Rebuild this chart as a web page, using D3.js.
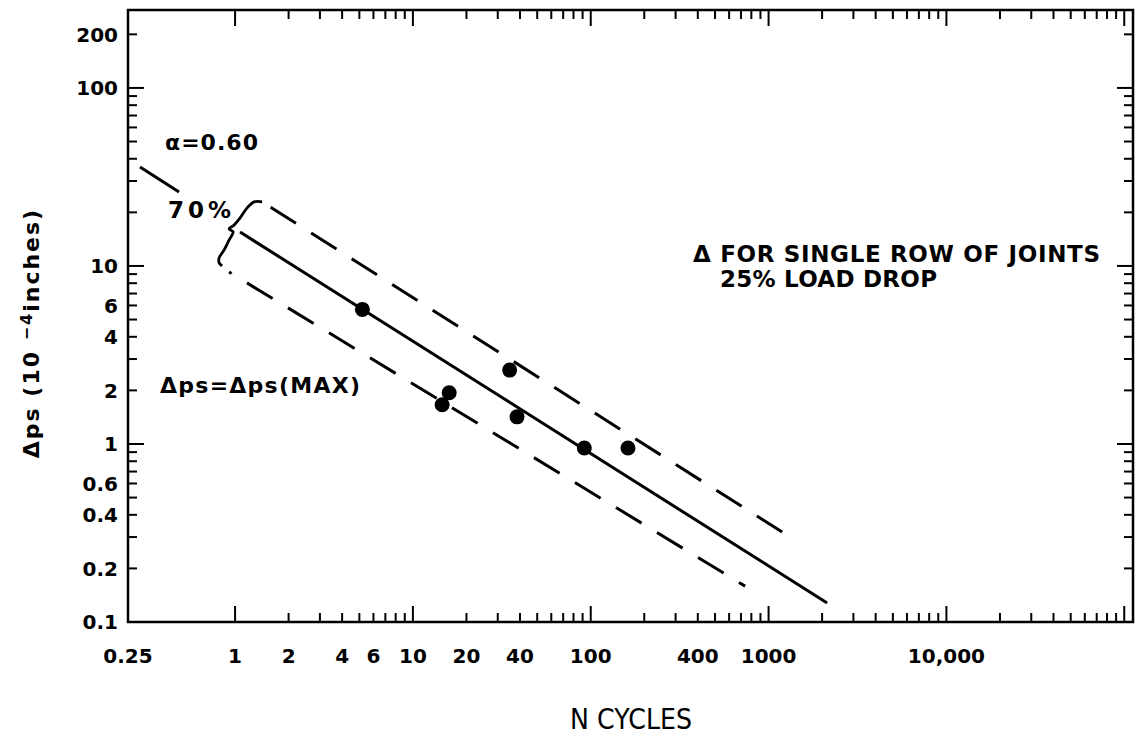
<!DOCTYPE html>
<html>
<head>
<meta charset="utf-8">
<script src="https://cdn.jsdelivr.net/npm/d3@7"></script>
<style>
  body { margin: 0; background: #fff; }
  svg { display: block; }
  text { font-family: "DejaVu Sans", "Liberation Sans", Arial, sans-serif; fill: #000; }
</style>
</head>
<body>
<svg id="chart" width="1141" height="740"></svg>
<script>
// Test results: permanent-set increment against number of cycles
const testCycles = [5.2, 14.6, 16, 35, 38.5, 92, 162];
const testDps    = [5.7, 1.66, 1.94, 2.6, 1.42, 0.95, 0.95];

// Fitted trend (alpha = 0.60) and the 70% band around it
const meanLineN    = [1.067, 2135];
const meanLineDps  = [15.5, 0.128];
const meanLeadN    = [0.292, 0.484];
const meanLeadDps  = [36, 26];
const upperBandN   = [1.42, 1193];
const upperBandDps = [22.9, 0.32];
const lowerBandN   = [0.925, 738];
const lowerBandDps = [9.25, 0.159];

// Labelled ticks
const xTickLabels = [0.25, 1, 2, 4, 6, 10, 20, 40, 100, 400, 1000, 10000];
const yTickLabels = [0.1, 0.2, 0.4, 0.6, 1, 2, 4, 6, 10, 100, 200];

const svg = d3.select("#chart");
const plot = { left: 128, right: 1133, top: 10, bottom: 622 };

const x = d3.scaleLog().domain([0.25, 112000]).range([plot.left, plot.right]);
const y = d3.scaleLog().domain([0.1, 274]).range([plot.bottom, plot.top]);

const isDecade = v => Math.abs(Math.log10(v) - Math.round(Math.log10(v))) < 1e-9;
const fmt = v => v >= 10000 ? d3.format(",")(v) : String(v);

// ---- frame ----
svg.append("rect")
  .attr("x", plot.left).attr("y", plot.top)
  .attr("width", plot.right - plot.left).attr("height", plot.bottom - plot.top)
  .attr("fill", "none").attr("stroke", "#000").attr("stroke-width", 2.5);

// ---- tick marks on all four sides, pointing inward ----
const xTicks = x.ticks().filter(v => v >= 1 && v <= 100000);
const yTicks = y.ticks();
const tickLen = v => isDecade(v) ? 16 : 9;

const tickG = svg.append("g").attr("stroke", "#000").attr("stroke-width", 2);
tickG.selectAll(".xb").data(xTicks).join("line")
  .attr("x1", d => x(d)).attr("x2", d => x(d))
  .attr("y1", plot.bottom).attr("y2", d => plot.bottom - tickLen(d));
tickG.selectAll(".xt").data(xTicks).join("line")
  .attr("x1", d => x(d)).attr("x2", d => x(d))
  .attr("y1", plot.top).attr("y2", d => plot.top + tickLen(d));
tickG.selectAll(".yl").data(yTicks).join("line")
  .attr("y1", d => y(d)).attr("y2", d => y(d))
  .attr("x1", plot.left).attr("x2", d => plot.left + tickLen(d));
tickG.selectAll(".yr").data(yTicks).join("line")
  .attr("y1", d => y(d)).attr("y2", d => y(d))
  .attr("x1", plot.right).attr("x2", d => plot.right - tickLen(d));

// ---- tick labels ----
svg.append("g").selectAll("text").data(xTickLabels).join("text")
  .attr("x", d => x(d)).attr("y", 663)
  .attr("text-anchor", "middle")
  .attr("font-size", 20).attr("font-weight", "bold")
  .text(fmt);

svg.append("g").selectAll("text").data(yTickLabels).join("text")
  .attr("x", 118).attr("y", d => y(d))
  .attr("dy", "0.36em")
  .attr("text-anchor", "end")
  .attr("font-size", 20).attr("font-weight", "bold")
  .text(fmt);

// ---- axis titles ----
svg.append("text")
  .attr("x", 570).attr("y", 729)
  .attr("font-size", 28)
  .attr("textLength", 122).attr("lengthAdjust", "spacingAndGlyphs")
  .text("N  CYCLES");

const yTitle = svg.append("text")
  .attr("transform", "translate(39,333) rotate(-90)")
  .attr("text-anchor", "middle")
  .attr("font-size", 22).attr("font-weight", "bold")
  .attr("letter-spacing", 2);
yTitle.append("tspan").text("\u0394ps  (10 ");
yTitle.append("tspan").attr("font-size", 16).attr("baseline-shift", "45%").text("\u22124");
yTitle.append("tspan").text("inches)");

// ---- trend and band lines ----
const line = d3.line().x(d => x(d[0])).y(d => y(d[1]));
const pairs = (ns, ps) => ns.map((n, i) => [n, ps[i]]);
const dash = 30, gap = 18;

const lines = svg.append("g").attr("fill", "none").attr("stroke", "#000").attr("stroke-width", 3);
lines.append("path").attr("d", line(pairs(meanLineN, meanLineDps)));
lines.append("path").attr("d", line(pairs(meanLeadN, meanLeadDps)));

// upper band: phase the dashes so the line finishes on a full dash
const upper = lines.append("path").attr("d", line(pairs(upperBandN, upperBandDps)))
  .attr("stroke-dasharray", `${dash},${gap}`);
const upperLen = upper.node().getTotalLength();
upper.attr("stroke-dashoffset", ((dash - upperLen) % (dash + gap) + (dash + gap)) % (dash + gap));

// lower band opens with a short dot after the brace
lines.append("path").attr("d", line(pairs(lowerBandN, lowerBandDps)))
  .attr("stroke-dasharray", `${dash},${gap}`).attr("stroke-dashoffset", 27);

// Curly brace joining the band ends, drawn relative to the upper band start
const braceTop = [x(upperBandN[0]), y(upperBandDps[0])];
const braceOffsets = [
  [0, 0], [-8, 0], [-15, 6], [-22, 16], [-28, 23], [-33, 27],
  [-29, 30], [-33, 38], [-38, 48], [-43, 56], [-43, 61], [-40, 64]
];
const braceLine = d3.line().curve(d3.curveCatmullRom);
lines.append("path")
  .attr("stroke-width", 2.8).attr("stroke-linejoin", "round")
  .attr("d", braceLine(braceOffsets.map(o => [braceTop[0] + o[0], braceTop[1] + o[1]])));

// ---- measured points ----
svg.append("g").selectAll("circle").data(pairs(testCycles, testDps)).join("circle")
  .attr("cx", d => x(d[0])).attr("cy", d => y(d[1]))
  .attr("r", 7.5).attr("fill", "#000");

// ---- annotations ----
const note = (tx, ty, size, str, width) => svg.append("text")
  .attr("x", tx).attr("y", ty)
  .attr("font-size", size).attr("font-weight", "bold")
  .attr("textLength", width).attr("lengthAdjust", "spacing")
  .text(str);

note(165, 150, 22, "\u03b1=0.60", 93);
note(168, 218, 23, "70%", 63);
note(160, 393, 22, "\u0394ps=\u0394ps(MAX)", 200);
note(693, 262, 23, "\u0394 FOR SINGLE ROW OF JOINTS", 407);
note(720, 287, 23, "25% LOAD DROP", 217);
</script>
</body>
</html>
